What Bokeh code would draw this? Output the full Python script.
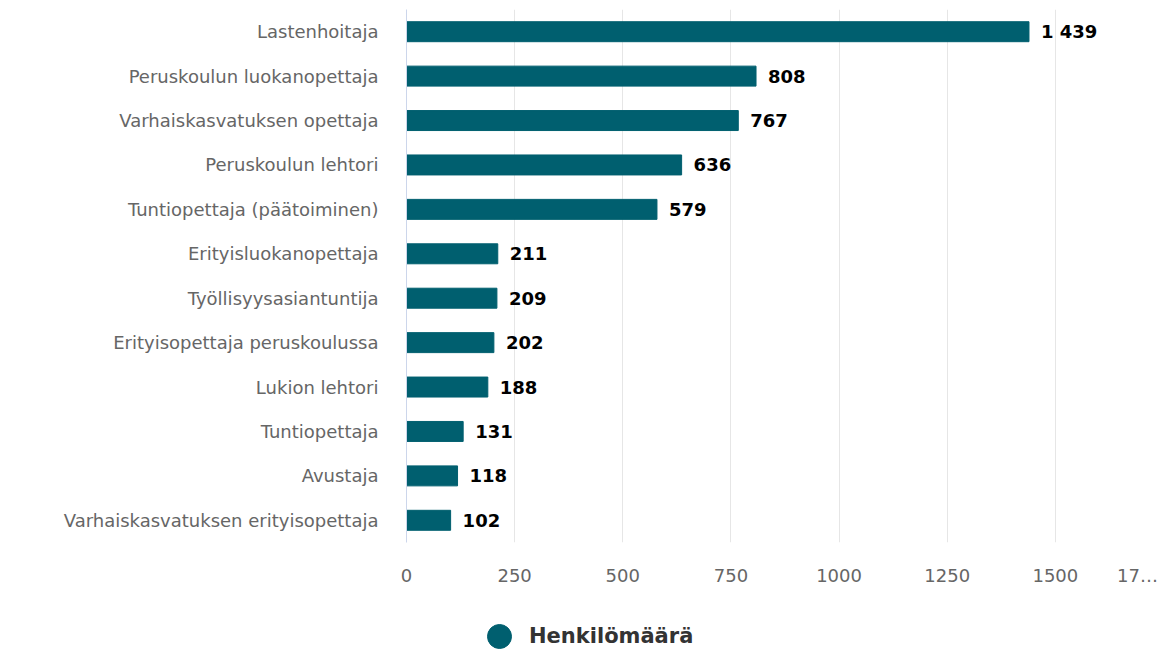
from bokeh.plotting import figure
from bokeh.layouts import column
from bokeh.models import (ColumnDataSource, LabelSet, Legend, LegendItem,
                          FixedTicker, Range1d, FactorRange)
from bokeh.core.properties import value
from bokeh.embed import file_html
from bokeh.resources import INLINE

categories = ["Lastenhoitaja", "Peruskoulun luokanopettaja", "Varhaiskasvatuksen opettaja",
              "Peruskoulun lehtori", "Tuntiopettaja (päätoiminen)", "Erityisluokanopettaja",
              "Työllisyysasiantuntija", "Erityisopettaja peruskoulussa", "Lukion lehtori",
              "Tuntiopettaja", "Avustaja", "Varhaiskasvatuksen erityisopettaja"]
values = [1439, 808, 767, 636, 579, 211, 209, 202, 188, 131, 118, 102]
x_ticks = [0, 250, 500, 750, 1000, 1250, 1500]
# last tick label (1750) is shown truncated and shifted left in the reference
trunc_tick_pos = 1690
trunc_tick_label = "17…"
series_name = "Henkilömäärä"

labels = ["{:,}".format(v).replace(",", " ") for v in values]
src = ColumnDataSource(dict(cat=categories, val=values, lab=labels))

BAR = "#005f6f"
FONT = "DejaVu Sans"

p = figure(width=1163, height=615, output_backend="svg", toolbar_location=None,
           y_range=FactorRange(*list(reversed(categories)), range_padding=0),
           x_range=Range1d(0, 1750),
           min_border_left=406, min_border_right=0, min_border_top=9, min_border_bottom=73)
p.outline_line_color = None
p.background_fill_color = "white"

r = p.hbar(y="cat", right="val", left=0, height=0.45, source=src,
           fill_color=BAR, line_color=BAR)

p.add_layout(LabelSet(x="val", y="cat", text="lab", source=src, x_offset=12,
                      text_baseline="middle", text_font=value(FONT), text_font_size="18px",
                      text_font_style="bold", text_color="#000000"))

p.ygrid.grid_line_color = None
p.xgrid.grid_line_color = "#e6e6e6"
p.xgrid.ticker = FixedTicker(ticks=x_ticks)

p.xaxis.ticker = FixedTicker(ticks=x_ticks + [trunc_tick_pos])
p.xaxis.major_label_overrides = {trunc_tick_pos: trunc_tick_label}
p.xaxis.axis_line_color = None
p.xaxis.major_tick_line_color = None
p.xaxis.minor_tick_line_color = None
p.xaxis.major_label_text_font = FONT
p.xaxis.major_label_text_font_size = "18px"
p.xaxis.major_label_text_color = "#666666"
p.xaxis.major_label_standoff = 16

p.yaxis.axis_line_color = "#ccd6eb"
p.yaxis.major_tick_line_color = None
p.yaxis.minor_tick_line_color = None
p.yaxis.major_label_text_font = FONT
p.yaxis.major_label_text_font_size = "18px"
p.yaxis.major_label_text_color = "#666666"
p.yaxis.major_label_standoff = 22

# legend strip below the chart (its frame is aligned with the chart's frame)
lg = figure(width=1163, height=34, output_backend="svg", toolbar_location=None,
            x_range=Range1d(0, 1), y_range=Range1d(0, 1),
            min_border_left=0, min_border_right=0, min_border_top=0, min_border_bottom=0)
lg.axis.visible = False
lg.grid.visible = False
lg.outline_line_color = None
# a legend swatch source, kept outside the strip's visible range
dot = lg.scatter(x=[-5], y=[-5], marker="circle", size=24, fill_color=BAR, line_color=BAR)
legend = Legend(items=[LegendItem(label=series_name, renderers=[dot])],
                location=(63, -17), orientation="horizontal",
                glyph_width=60, glyph_height=60, label_standoff=0,
                label_text_font=FONT, label_text_font_size="21px",
                label_text_font_style="bold", label_text_color="#333333",
                border_line_color=None, background_fill_alpha=0, margin=0, padding=0)
lg.add_layout(legend, "center")

layout = column(p, lg, spacing=0)
open("out.html", "w").write(file_html(layout, INLINE))
